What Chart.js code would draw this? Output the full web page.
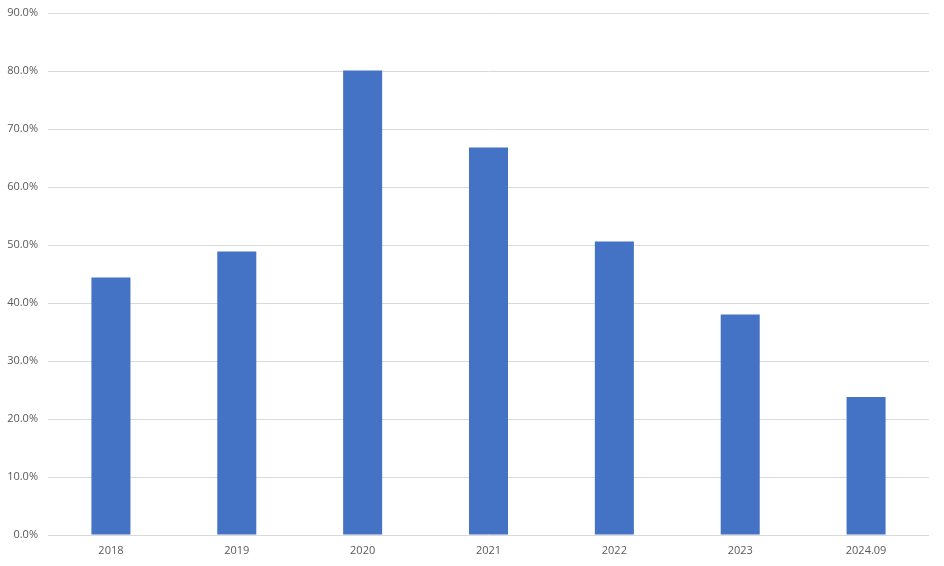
<!DOCTYPE html>
<html>
<head>
<meta charset="utf-8">
<script src="https://cdn.jsdelivr.net/npm/chart.js@4/dist/chart.umd.min.js"></script>
<style>
  html, body { margin: 0; padding: 0; background: #fff; }
  #wrap { width: 944px; height: 566px; }
</style>
</head>
<body>
<div id="wrap"><canvas id="rateChart" width="944" height="566"></canvas></div>
<script>
const years = ["2018", "2019", "2020", "2021", "2022", "2023", "2024.09"];
const rates = [44.4, 48.9, 80.1, 66.8, 50.6, 38.0, 23.8];
const yTicks = [0, 10, 20, 30, 40, 50, 60, 70, 80, 90];

const ctx = document.getElementById("rateChart").getContext("2d");
new Chart(ctx, {
  type: "bar",
  data: {
    labels: years,
    datasets: [
      {
        label: "Rate",
        data: rates,
        backgroundColor: "#4472c4",
        barPercentage: 0.31,
        categoryPercentage: 1,
      },
    ],
  },
  options: {
    responsive: false,
    animation: false,
    layout: { padding: { top: 13, right: 15, left: 1, bottom: 0 } },
    plugins: {
      legend: { display: false },
      tooltip: { enabled: false },
    },
    scales: {
      x: {
        grid: { display: false, drawTicks: false },
        border: { display: false },
        ticks: {
          color: "#595959",
          font: { family: "Open Sans", size: 11 },
          padding: 9,
          maxRotation: 0,
        },
        afterFit: (s) => { s.height = 31; },
      },
      y: {
        min: 0,
        max: 90,
        afterBuildTicks: (s) => { s.ticks = yTicks.map((v) => ({ value: v })); },
        grid: { color: "#d9d9d9", drawTicks: false },
        border: { display: false },
        ticks: {
          color: "#595959",
          font: { family: "Open Sans", size: 11 },
          padding: 10,
          callback: (v) => v.toFixed(1) + "%",
        },
        afterFit: (s) => {
          s.width = 47;
          s.paddingTop = 0;
          s.paddingBottom = 0;
        },
      },
    },
  },
});
</script>
</body>
</html>
